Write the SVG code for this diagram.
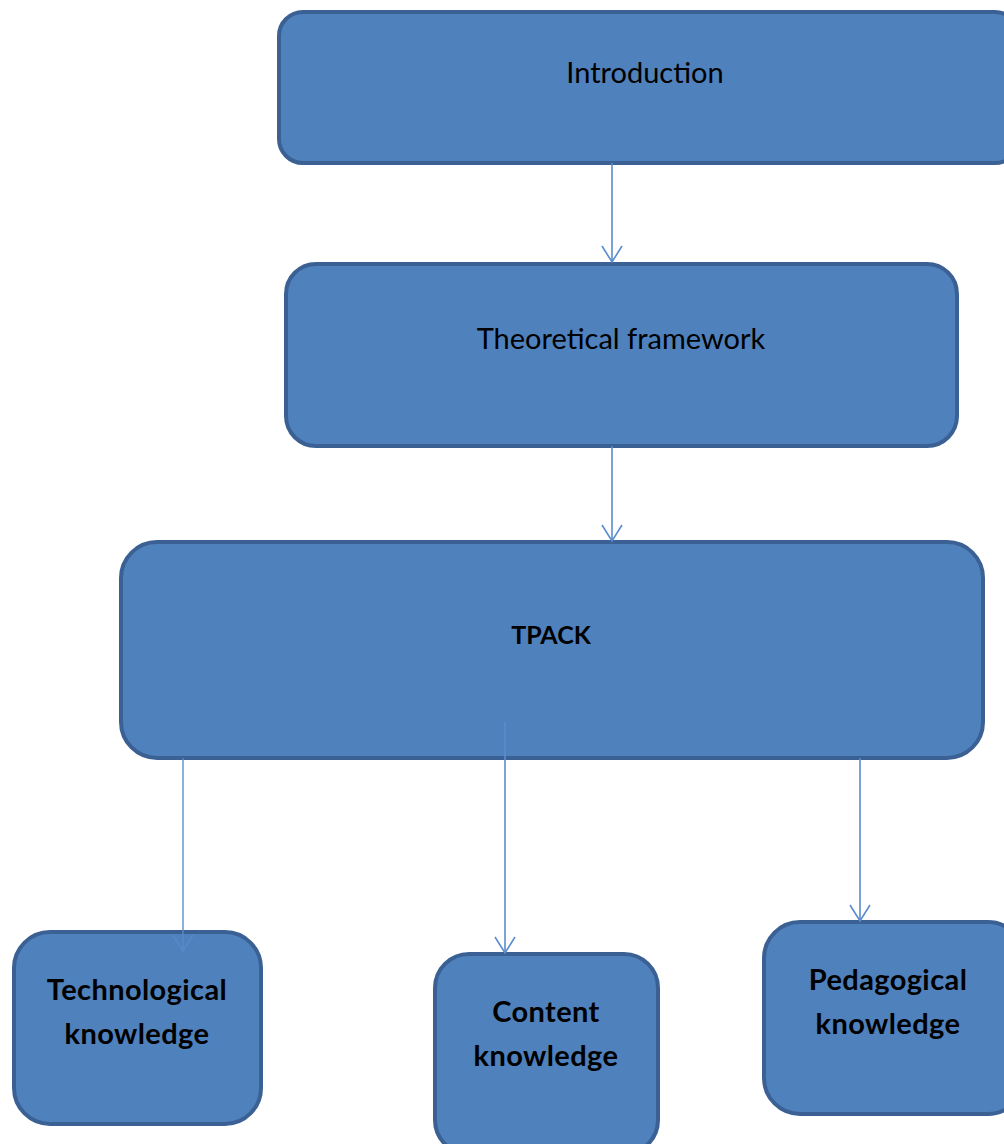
<svg xmlns="http://www.w3.org/2000/svg" width="1004" height="1144" viewBox="0 0 1004 1144">
  <style>
    .box { fill: #4f81bd; stroke: #3b6194; stroke-width: 4; }
    .lbl { font-family: Lato, "Open Sans", "Liberation Sans", sans-serif; fill: #000; text-anchor: middle; }
    .reg { font-size: 29px; }
    .bold { font-weight: bold; font-size: 29px; letter-spacing: 0.4px; }
    .conn { stroke: #5a8ccc; stroke-width: 1.6; fill: none; }
  </style>
  <defs>
    <!-- open V arrowhead, drawn along +x so orient="auto" points it down the line -->
    <marker id="vhead" viewBox="0 0 20 22" refX="18" refY="11" markerWidth="20" markerHeight="22" markerUnits="userSpaceOnUse" orient="auto">
      <path d="M2,1 L18,11 L2,21" fill="none" stroke="#5a8ccc" stroke-width="1.6"/>
    </marker>
  </defs>
  <rect width="1004" height="1144" fill="#ffffff"/>

  <g id="introduction">
    <rect class="box" x="279" y="12" width="740" height="151" rx="24"/>
    <text class="lbl reg" x="645" y="83">Introduction</text>
  </g>

  <g id="theoretical-framework">
    <rect class="box" x="286" y="264" width="671" height="182" rx="30"/>
    <text class="lbl reg" x="621" y="349">Theoretical framework</text>
  </g>

  <g id="tpack">
    <rect class="box" x="121" y="542" width="862" height="216" rx="36"/>
    <text class="lbl" x="551" y="644" style="font-weight:bold;font-size:25px">TPACK</text>
  </g>

  <g id="technological-knowledge">
    <rect class="box" x="14" y="932" width="247" height="192" rx="36"/>
    <text class="lbl bold" x="137" y="1000">Technological</text>
    <text class="lbl bold" x="137" y="1044">knowledge</text>
  </g>

  <g id="content-knowledge">
    <rect class="box" x="435" y="954" width="223" height="200" rx="34"/>
    <text class="lbl bold" x="546" y="1022">Content</text>
    <text class="lbl bold" x="546" y="1066">knowledge</text>
  </g>

  <g id="pedagogical-knowledge">
    <rect class="box" x="764" y="922" width="260" height="192" rx="36"/>
    <text class="lbl bold" x="888" y="990">Pedagogical</text>
    <text class="lbl bold" x="888" y="1034">knowledge</text>
  </g>

  <g id="connectors">
    <line class="conn" x1="612" y1="163" x2="612" y2="262" marker-end="url(#vhead)"/>
    <line class="conn" x1="612" y1="446" x2="612" y2="541" marker-end="url(#vhead)"/>
    <line class="conn" x1="183" y1="758" x2="183" y2="951" marker-end="url(#vhead)" opacity="0.85"/>
    <line class="conn" x1="505" y1="722" x2="505" y2="953" marker-end="url(#vhead)"/>
    <line class="conn" x1="860" y1="758" x2="860" y2="921" marker-end="url(#vhead)"/>
  </g>
</svg>
